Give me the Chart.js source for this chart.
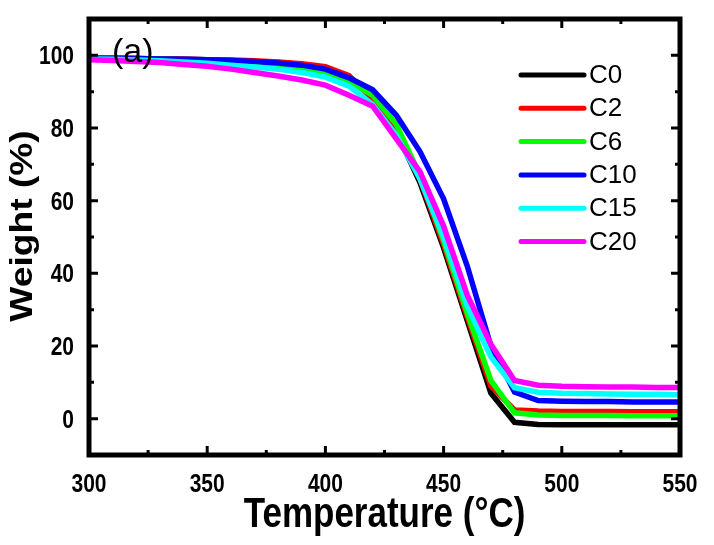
<!DOCTYPE html>
<html>
<head>
<meta charset="utf-8">
<script src="https://cdn.jsdelivr.net/npm/chart.js@4.4.1/dist/chart.umd.min.js"></script>
<style>
  html, body { margin: 0; padding: 0; background: #fff; }
  canvas { display: block; }
</style>
</head>
<body>
<canvas id="tgaChart" width="714" height="545"></canvas>
<script>
// TGA curves (every 10 °C)
const temperatures = [300, 310, 320, 330, 340, 350, 360, 370, 380, 390, 400, 410, 420,
                      430, 440, 450, 460, 470, 480, 490, 500, 510, 520, 530, 540, 550];

const c0  = [99.3, 99.2, 99.1, 99.0, 98.9, 98.8, 98.6, 98.3, 98.0, 97.5, 96.7, 94.0, 88.5,
             79.0, 65.0, 47.0, 27.0, 7.0, -1.0, -1.6, -1.7, -1.7, -1.7, -1.7, -1.7, -1.7];
const c2  = [99.3, 99.2, 99.1, 99.0, 98.9, 98.8, 98.7, 98.5, 98.2, 97.7, 96.9, 94.4, 88.0,
             80.0, 66.0, 48.0, 28.0, 9.0, 2.4, 2.1, 2.0, 2.0, 2.0, 1.9, 1.9, 1.9];
const c6  = [99.2, 99.1, 99.0, 98.9, 98.7, 98.5, 98.2, 97.9, 97.4, 96.6, 95.2, 92.8, 89.0,
             81.0, 67.0, 49.0, 29.0, 10.5, 1.6, 1.0, 0.9, 0.9, 0.9, 0.8, 0.8, 0.8];
const c10 = [99.2, 99.2, 99.1, 99.0, 98.9, 98.8, 98.6, 98.3, 97.9, 97.3, 96.2, 93.8, 90.5,
             83.5, 73.5, 60.5, 42.0, 20.0, 7.3, 5.0, 4.8, 4.7, 4.7, 4.6, 4.6, 4.6];
const c15 = [99.0, 98.9, 98.7, 98.5, 98.2, 97.8, 97.3, 96.8, 96.2, 95.3, 94.0, 91.5, 86.5,
             78.0, 66.0, 50.0, 31.0, 17.0, 8.5, 7.3, 7.0, 6.9, 6.8, 6.7, 6.7, 6.6];
const c20 = [98.8, 98.6, 98.3, 98.0, 97.5, 97.0, 96.2, 95.3, 94.3, 93.2, 91.8, 89.0, 86.0,
             77.0, 68.0, 53.0, 34.0, 20.5, 10.5, 9.2, 8.9, 8.8, 8.7, 8.7, 8.6, 8.6];

const seriesNames = ['C0', 'C2', 'C6', 'C10', 'C15', 'C20'];
const seriesValues = [c0, c2, c6, c10, c15, c20];

// labelled ticks
const xTickLabels = [300, 350, 400, 450, 500, 550];
const yTickLabels = [0, 20, 40, 60, 80, 100];

const colors = ['#000000', '#ff0000', '#00ff00', '#0000ff', '#00ffff', '#ff00ff'];
const FONT = '"Liberation Sans", Arial, sans-serif';
const STRETCH = 1.2; // the source figure is a bit taller than wide

// text drawn with the figure's vertical stretch
function drawText(ctx, text, x, y, font, align, rotate) {
    ctx.save();
    ctx.translate(x, y);
    if (rotate) {
        ctx.rotate(-Math.PI / 2);
        ctx.scale(STRETCH, 1);
    } else {
        ctx.scale(1, STRETCH);
    }
    ctx.font = font;
    ctx.textAlign = align;
    ctx.textBaseline = 'alphabetic';
    ctx.fillStyle = '#000';
    ctx.fillText(text, 0, 0);
    ctx.restore();
}

// frame, inward ticks, tick labels, titles, legend and panel label
const framePlugin = {
    id: 'frame',
    afterDatasetsDraw(chart) {
        const { ctx, chartArea: a, scales } = chart;
        ctx.save();
        ctx.strokeStyle = '#000';
        ctx.lineCap = 'butt';

        // ticks on all four sides, pointing inwards
        ctx.lineWidth = 3;
        scales.x.ticks.forEach(t => {
            const px = scales.x.getPixelForValue(t.value);
            const len = xTickLabels.includes(t.value) ? 9 : 5;
            ctx.beginPath();
            ctx.moveTo(px, a.bottom); ctx.lineTo(px, a.bottom - len);
            ctx.moveTo(px, a.top); ctx.lineTo(px, a.top + len);
            ctx.stroke();
        });
        scales.y.ticks.forEach(t => {
            const py = scales.y.getPixelForValue(t.value);
            const len = yTickLabels.includes(t.value) ? 9 : 5;
            ctx.beginPath();
            ctx.moveTo(a.left, py); ctx.lineTo(a.left + len, py);
            ctx.moveTo(a.right, py); ctx.lineTo(a.right - len, py);
            ctx.stroke();
        });

        ctx.lineWidth = 5;
        ctx.strokeRect(a.left, a.top, a.right - a.left, a.bottom - a.top);

        // tick labels
        const tickFont = 'bold 21px ' + FONT;
        xTickLabels.forEach(v => {
            drawText(ctx, String(v), scales.x.getPixelForValue(v), 492, tickFont, 'center');
        });
        yTickLabels.forEach(v => {
            drawText(ctx, String(v), 74, scales.y.getPixelForValue(v) + 9, tickFont, 'right');
        });

        // axis titles
        drawText(ctx, 'Temperature (°C)', (a.left + a.right) / 2, 527, 'bold 35px ' + FONT, 'center');
        drawText(ctx, 'Weight (%)', 32, 226, 'bold 31px ' + FONT, 'center', true);

        // legend
        chart.data.datasets.forEach((ds, i) => {
            const y = 75 + i * 33.3;
            ctx.strokeStyle = ds.borderColor;
            ctx.lineWidth = 5;
            ctx.lineCap = 'round';
            ctx.beginPath();
            ctx.moveTo(521, y); ctx.lineTo(584, y);
            ctx.stroke();
            ctx.fillStyle = '#000';
            ctx.font = '26px ' + FONT;
            ctx.textBaseline = 'middle';
            ctx.textAlign = 'left';
            ctx.fillText(ds.label, 589, y + 1);
        });

        ctx.fillStyle = '#000';
        ctx.font = '34px ' + FONT;
        ctx.textBaseline = 'middle';
        ctx.textAlign = 'left';
        ctx.fillText('(a)', 112, 53);
        ctx.restore();
    }
};

const ctx = document.getElementById('tgaChart').getContext('2d');
new Chart(ctx, {
    type: 'line',
    data: {
        labels: temperatures,
        datasets: seriesNames.map((name, i) => ({
            label: name,
            data: temperatures.map((t, j) => ({ x: t, y: seriesValues[i][j] })),
            borderColor: colors[i],
            borderWidth: 5.5,
            pointRadius: 0,
            tension: 0,
            fill: false,
            order: seriesNames.length - 1 - i
        }))
    },
    options: {
        responsive: false,
        animation: false,
        devicePixelRatio: 1,
        layout: { padding: { top: 19, right: 34, bottom: 0, left: 0 } },
        plugins: {
            legend: { display: false },
            tooltip: { enabled: false }
        },
        scales: {
            x: {
                type: 'linear',
                min: 300,
                max: 550,
                grid: { display: false },
                border: { display: false },
                ticks: { stepSize: 25, autoSkip: false, display: false },
                afterFit: s => { s.height = 90; }
            },
            y: {
                min: -10,
                max: 110,
                grid: { display: false },
                border: { display: false },
                ticks: { stepSize: 10, autoSkip: false, display: false },
                afterFit: s => { s.width = 89; }
            }
        }
    },
    plugins: [framePlugin]
});
</script>
</body>
</html>
